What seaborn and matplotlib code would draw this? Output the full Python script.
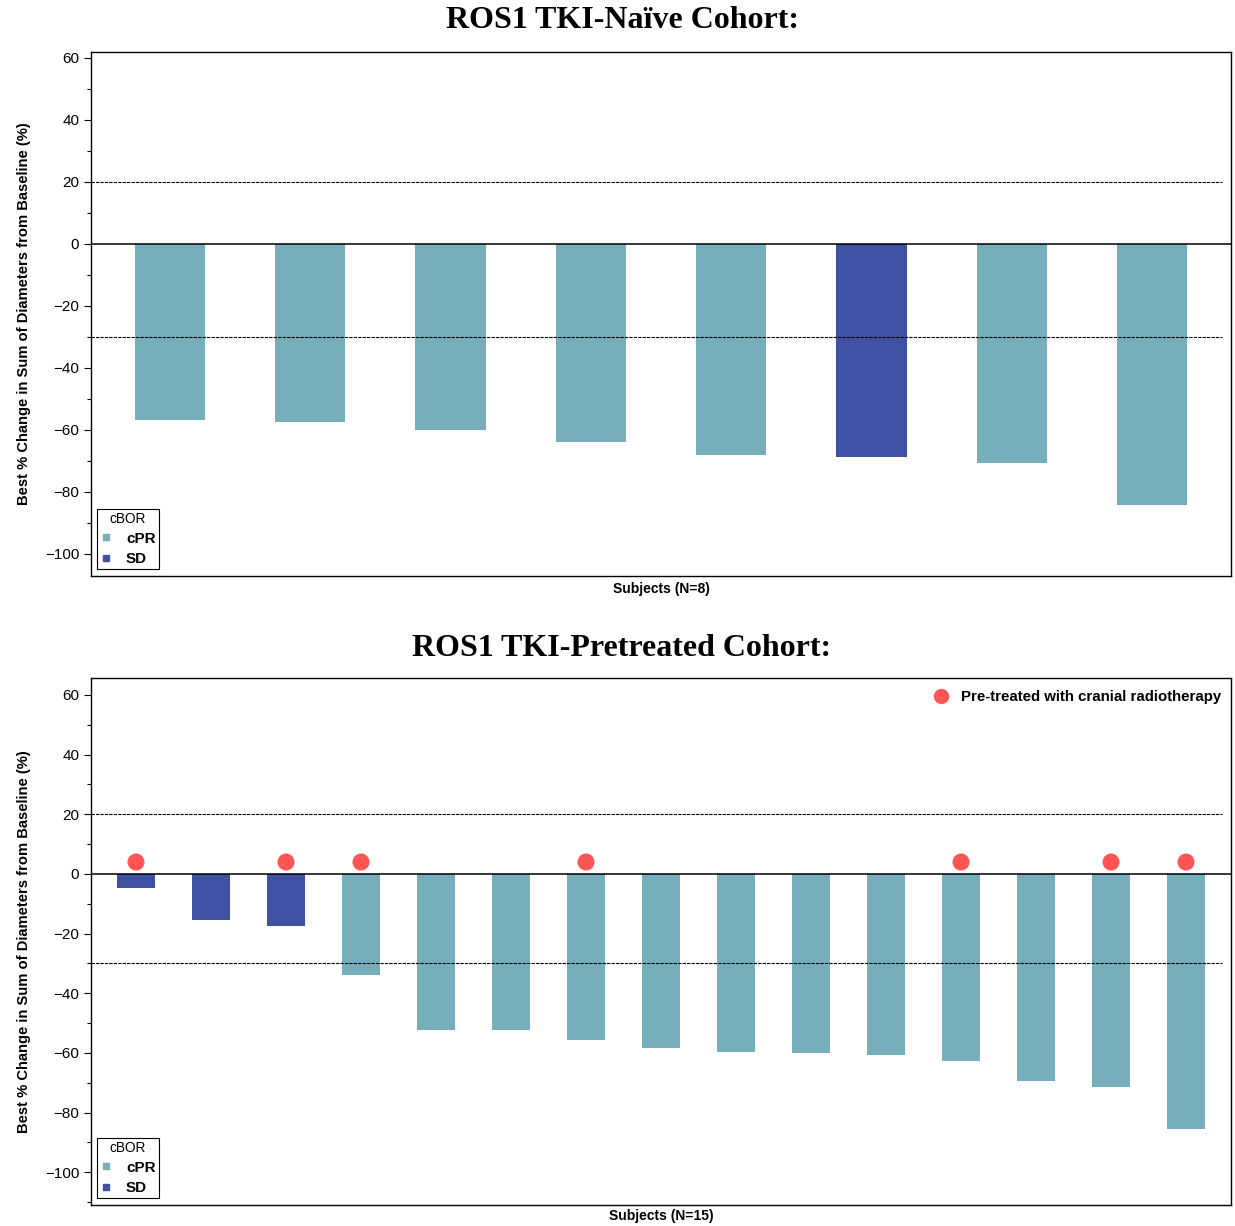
import matplotlib
matplotlib.use("Agg")
import matplotlib.pyplot as plt
from matplotlib.lines import Line2D
from matplotlib.ticker import MultipleLocator
import seaborn as sns
import pandas as pd

# Best % change per subject, ordered as plotted
naive_change = [-56.8, -57.4, -60.0, -63.9, -68.1, -68.7, -70.6, -84.2]
naive_bor = ["cPR", "cPR", "cPR", "cPR", "cPR", "SD", "cPR", "cPR"]

pre_change = [-4.8, -15.4, -17.6, -33.9, -52.3, -52.3, -55.6, -58.3,
              -59.7, -60.0, -60.7, -62.7, -69.4, -71.4, -85.4]
pre_bor = ["SD", "SD", "SD", "cPR", "cPR", "cPR", "cPR", "cPR",
           "cPR", "cPR", "cPR", "cPR", "cPR", "cPR", "cPR"]
pre_radio = [1, 0, 1, 1, 0, 0, 1, 0, 0, 0, 0, 1, 0, 1, 1]

titles = ["ROS1 TKI-Naïve Cohort:", "ROS1 TKI-Pretreated Cohort:"]
ylabel = "Best % Change in Sum of Diameters from Baseline (%)"
radio_label = "Pre-treated with cranial radiotherapy"

palette = {"cPR": "#76AEBC", "SD": "#3F51A3"}
dot_color = "#FF5555"

sns.set_style("white")
plt.rcParams["font.family"] = ["Liberation Sans", "DejaVu Sans"]
plt.rcParams["text.color"] = "black"
plt.rcParams["axes.labelcolor"] = "black"
plt.rcParams["xtick.color"] = "black"
plt.rcParams["ytick.color"] = "black"

fig = plt.figure(figsize=(12.35, 12.26), dpi=100)
W, H = 1235, 1226


def make_axes(left, top, right, bottom):
    return fig.add_axes([left / W, 1 - bottom / H, (right - left) / W, (bottom - top) / H])


def draw_panel(ax, values, bor, ylim, xpad, n_label, height_px):
    n = len(values)
    df = pd.DataFrame({"subject": [str(i + 1) for i in range(n)],
                       "change": values, "cBOR": bor})
    sns.barplot(data=df, x="subject", y="change", hue="cBOR", palette=palette,
                dodge=False, width=0.5, saturation=1, legend=False, ax=ax,
                order=df["subject"], linewidth=0, edgecolor="none")
    ax.set_xlim(-xpad, n - 1 + xpad)
    ax.axhline(0, color="black", lw=1.1, zorder=3)
    for yref in (20, -30):
        ax.axhline(yref, xmin=0, xmax=0.992, color="black", lw=0.8,
                   ls=(0, (3, 1)), zorder=3)
    ax.set_xticks([])
    ax.set_yticks(range(-100, 61, 20))
    ax.yaxis.set_minor_locator(MultipleLocator(10))
    ax.set_ylim(*ylim)
    ax.tick_params(axis="y", which="major", direction="out", length=5, width=0.8,
                   labelsize=11, left=True)
    ax.tick_params(axis="y", which="minor", direction="out", length=3, width=0.8, left=True)
    for s in ax.spines.values():
        s.set_color("black")
        s.set_linewidth(1.0)
    ax.set_ylabel(ylabel, fontsize=10.6, fontweight="bold", labelpad=10)
    ax.set_xlabel(n_label, fontsize=10, fontweight="bold", labelpad=4)

    handles = [Line2D([], [], marker="s", ls="", color=palette[k], markersize=5)
               for k in ("cPR", "SD")]
    leg = ax.legend(handles, ["cPR", "SD"], title="cBOR", loc="lower left",
                    bbox_to_anchor=(6 / 1140, 7 / height_px), borderaxespad=0,
                    frameon=True, fancybox=False,
                    edgecolor="black", framealpha=1, handlelength=0.8,
                    handletextpad=0.9, borderpad=0.2, labelspacing=0.4,
                    prop={"weight": "bold", "size": 11}, title_fontsize=9.8)
    leg.get_frame().set_linewidth(0.8)
    return df


ax1 = make_axes(91, 52, 1231, 576)
draw_panel(ax1, naive_change, naive_bor, (-107.1, 61.9), 0.56, "Subjects (N=8)", 524)

ax2 = make_axes(91, 678, 1231, 1205)
df2 = draw_panel(ax2, pre_change, pre_bor, (-111, 65.7), 0.6, "Subjects (N=15)", 527)

dots = df2[[r == 1 for r in pre_radio]].assign(marker_y=4.0)
sns.scatterplot(data=dots, x="subject", y="marker_y", color=dot_color, s=150,
                edgecolor="none", ax=ax2, zorder=4, legend=False)
ax2.set_xlim(-0.6, len(pre_change) - 0.4)
ax2.set_xlabel("Subjects (N=15)", fontsize=10, fontweight="bold", labelpad=3)
ax2.set_ylabel(ylabel, fontsize=10.6, fontweight="bold", labelpad=10)
ax2.add_artist(ax2.get_legend())
dot_handle = Line2D([], [], marker="o", ls="", color=dot_color, markersize=10)
ax2.legend([dot_handle], [radio_label], loc="upper right", frameon=False,
           prop={"weight": "bold", "size": 10.8}, handlelength=1.0,
           handletextpad=0.8, borderaxespad=0,
           bbox_to_anchor=(1 - 4 / 1140, 1 - 6 / 527))

fig.text(622 / W, 1 - 20 / H, titles[0], ha="center", va="center",
         fontsize=23, fontweight="bold", family="Liberation Serif")
fig.text(622 / W, 1 - 649 / H, titles[1], ha="center", va="center",
         fontsize=23, fontweight="bold", family="Liberation Serif")

fig.savefig("out.png", dpi=100)
